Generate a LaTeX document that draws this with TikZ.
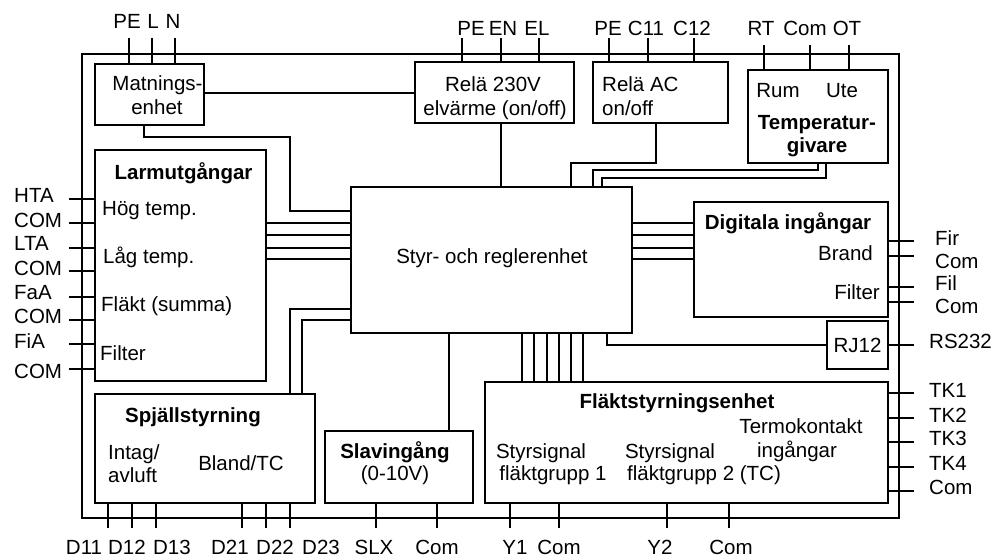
\documentclass[tikz,border=0pt]{standalone}
\usepackage{fontspec}
\setmainfont{Liberation Sans}
\tikzset{
  box/.style={draw, line width=1.5pt, inner sep=0pt},
  wire/.style={line width=1.3pt},
  txt/.style={inner sep=0pt, font=\fontsize{20.5}{23}\selectfont},
  btxt/.style={inner sep=0pt, font=\fontsize{20.5}{23}\selectfont\bfseries},
}
\begin{document}
\begin{tikzpicture}[x=1pt,y=-1pt]
\useasboundingbox (0,0) rectangle (999,558);
% boxes
\node[box, minimum width=817, minimum height=464] (frame) at (490.5,286) {};
\node[box, minimum width=109, minimum height=61] (mat) at (149.5,94.5) {};
\node[box, minimum width=159, minimum height=61] (relA) at (494.5,92.5) {};
\node[box, minimum width=135, minimum height=61] (relB) at (660.5,92.5) {};
\node[box, minimum width=140, minimum height=93] (temp) at (818,116.5) {};
\node[box, minimum width=171, minimum height=231] (larm) at (180.5,265.5) {};
\node[box, minimum width=281, minimum height=146] (styr) at (491.5,260) {};
\node[box, minimum width=194, minimum height=115] (dig) at (791,259.5) {};
\node[box, minimum width=61, minimum height=48] (rj) at (857.5,345) {};
\node[box, minimum width=220, minimum height=109] (spj) at (205,448.5) {};
\node[box, minimum width=148, minimum height=72] (slav) at (399,467) {};
\node[box, minimum width=403, minimum height=121] (flakt) at (686.5,442.5) {};

% box texts
\node[txt, anchor=base] (matA) at (157.5,90.5) {Matnings-};
\node[txt, anchor=base] (matB) at (157,114) {enhet};
\node[txt, anchor=base] (relAa) at (493,91) {Relä 230V};
\node[txt, anchor=base] (relAb) at (495,115) {elvärme (on/off)};
\node[txt, anchor=base west] (relBa) at (602,91) {Relä AC};
\node[txt, anchor=base west] (relBb) at (602,115) {on/off};
\node[txt, anchor=base] (rum) at (778,97) {Rum};
\node[txt, anchor=base] (ute) at (842,97) {Ute};
\node[btxt, anchor=base] (tempA) at (817,129) {Temperatur-};
\node[btxt, anchor=base] (tempB) at (817,152) {givare};
\node[btxt, anchor=base] (larmT) at (183.5,179) {Larmutgångar};
\node[txt, anchor=base west] (hog) at (102,215) {Hög temp.};
\node[txt, anchor=base west] (lag) at (103,263) {Låg temp.};
\node[txt, anchor=base west] (fsum) at (101,311) {Fläkt (summa)};
\node[txt, anchor=base west] (filA) at (100,360) {Filter};
\node[txt, anchor=base] (styrT) at (492,263) {Styr- och reglerenhet};
\node[btxt, anchor=base] (digT) at (788,229) {Digitala ingångar};
\node[txt, anchor=base east] (brand) at (873,260) {Brand};
\node[txt, anchor=base east] (filB) at (880,299) {Filter};
\node[txt, anchor=base] (rjT) at (857.5,352) {RJ12};
\node[btxt, anchor=base] (spjT) at (193,422) {Spjällstyrning};
\node[txt, anchor=base west] (intag) at (108,459) {Intag/};
\node[txt, anchor=base west] (avluft) at (108,482) {avluft};
\node[txt, anchor=base] (bland) at (241,470) {Bland/TC};
\node[btxt, anchor=base] (slavT) at (395,458) {Slavingång};
\node[txt, anchor=base] (slavV) at (395,480) {(0-10V)};
\node[btxt, anchor=base] (flaktT) at (677,408) {Fläktstyrningsenhet};
\node[txt, anchor=base] (ss1) at (541,458) {Styrsignal};
\node[txt, anchor=base] (fg1) at (553,480) {fläktgrupp 1};
\node[txt, anchor=base] (ss2) at (670,458) {Styrsignal};
\node[txt, anchor=base] (fg2) at (704,480) {fläktgrupp 2 (TC)};
\node[txt, anchor=base] (termo) at (801,433) {Termokontakt};
\node[txt, anchor=base] (ingang) at (797,457) {ingångar};

% terminal labels top
\node[txt, anchor=base] (pe1) at (127,28) {PE};
\node[txt, anchor=base] (l1) at (153,28) {L};
\node[txt, anchor=base] (n1) at (173,28) {N};
\node[txt, anchor=base] (pe2) at (471,35) {PE};
\node[txt, anchor=base] (en) at (503,35) {EN};
\node[txt, anchor=base] (el) at (537,35) {EL};
\node[txt, anchor=base] (pe3) at (608,35) {PE};
\node[txt, anchor=base] (c11) at (646,35) {C11};
\node[txt, anchor=base] (c12) at (692,35) {C12};
\node[txt, anchor=base] (rt) at (761,35) {RT};
\node[txt, anchor=base] (comT) at (805,35) {Com};
\node[txt, anchor=base] (ot) at (847,35) {OT};
% left labels
\node[txt, anchor=base west] (hta) at (14,202) {HTA};
\node[txt, anchor=base west] (comL1) at (14,227) {COM};
\node[txt, anchor=base west] (lta) at (14,250) {LTA};
\node[txt, anchor=base west] (comL2) at (14,275) {COM};
\node[txt, anchor=base west] (faa) at (14,299) {FaA};
\node[txt, anchor=base west] (comL3) at (14,323) {COM};
\node[txt, anchor=base west] (fia) at (14,348) {FiA};
\node[txt, anchor=base west] (comL4) at (14,378) {COM};
% right labels
\node[txt, anchor=base west] (fir) at (935,245) {Fir};
\node[txt, anchor=base west] (comR1) at (935,268) {Com};
\node[txt, anchor=base west] (fil) at (935,290) {Fil};
\node[txt, anchor=base west] (comR2) at (935,313) {Com};
\node[txt, anchor=base west] (rs) at (929,348) {RS232};
\node[txt, anchor=base west] (tk1) at (929,397) {TK1};
\node[txt, anchor=base west] (tk2) at (929,422) {TK2};
\node[txt, anchor=base west] (tk3) at (929,445) {TK3};
\node[txt, anchor=base west] (tk4) at (929,470) {TK4};
\node[txt, anchor=base west] (comR3) at (929,494) {Com};
% bottom labels
\node[txt, anchor=base] (d11) at (84,554) {D11};
\node[txt, anchor=base] (d12) at (127,554) {D12};
\node[txt, anchor=base] (d13) at (172,554) {D13};
\node[txt, anchor=base] (d21) at (230,554) {D21};
\node[txt, anchor=base] (d22) at (275,554) {D22};
\node[txt, anchor=base] (d23) at (321,554) {D23};
\node[txt, anchor=base] (slx) at (374,554) {SLX};
\node[txt, anchor=base] (comB1) at (437,554) {Com};
\node[txt, anchor=base] (y1) at (515,554) {Y1};
\node[txt, anchor=base] (comB2) at (559,554) {Com};
\node[txt, anchor=base] (y2) at (660,554) {Y2};
\node[txt, anchor=base] (comB3) at (731,554) {Com};

% internal connectors
\draw[wire] (mat.east |- 0,93) -- (relA.west |- 0,93);
\draw[wire] (mat.south -| 144,0) -- (144,137) -- (290,137) -- (290,211) -- (styr.west |- 0,211);
\draw[wire] (relA.south -| 501,0) -- (styr.north -| 501,0);
\draw[wire] (relB.south -| 656,0) |- (571,163) -- (styr.north -| 571,0);
\draw[wire] (temp.south -| 818,0) |- (593,170) -- (styr.north -| 593,0);
\draw[wire] (temp.south -| 826,0) |- (602,178) -- (styr.north -| 602,0);
\foreach \y in {223,235,248,259} {
  \draw[wire] (larm.east |- 0,\y) -- (styr.west |- 0,\y);
  \draw[wire] (styr.east |- 0,\y) -- (dig.west |- 0,\y);
}
\draw[wire] (styr.west |- 0,309) -| (spj.north -| 290,0);
\draw[wire] (styr.west |- 0,320) -| (spj.north -| 302,0);
\draw[wire] (styr.south -| 449,0) -- (slav.north -| 449,0);
\foreach \x in {522,534,547,559,571,583}
  \draw[wire] (styr.south -| \x,0) -- (flakt.north -| \x,0);
\draw[wire] (styr.south -| 607,0) |- (rj.west);

% terminals
\foreach \x in {129,152,175} \draw[wire] (mat.north -| \x,0) -- ++(0,-25);
\foreach \x in {462,501,539} \draw[wire] (relA.north -| \x,0) -- ++(0,-23);
\foreach \x in {609,648,694} \draw[wire] (relB.north -| \x,0) -- ++(0,-23);
\foreach \x in {764,810,849} \draw[wire] (temp.north -| \x,0) -- ++(0,-24);
\foreach \y in {199,223,248,271,297,320,344,369} \draw[wire] (larm.west |- 0,\y) -- ++(-25,0);
\foreach \y in {241,256,287,302} \draw[wire] (dig.east |- 0,\y) -- ++(25,0);
\draw[wire] (rj.east) -- ++(25,0);
\foreach \y in {393,418,442,467,491} \draw[wire] (flakt.east |- 0,\y) -- ++(25,0);
\foreach \x in {108,132,156,242,266,290} \draw[wire] (spj.south -| \x,0) -- ++(0,24);
\foreach \x in {376,437} \draw[wire] (slav.south -| \x,0) -- ++(0,24);
\foreach \x in {510,559,667,729} \draw[wire] (flakt.south -| \x,0) -- ++(0,24);
\end{tikzpicture}
\end{document}
